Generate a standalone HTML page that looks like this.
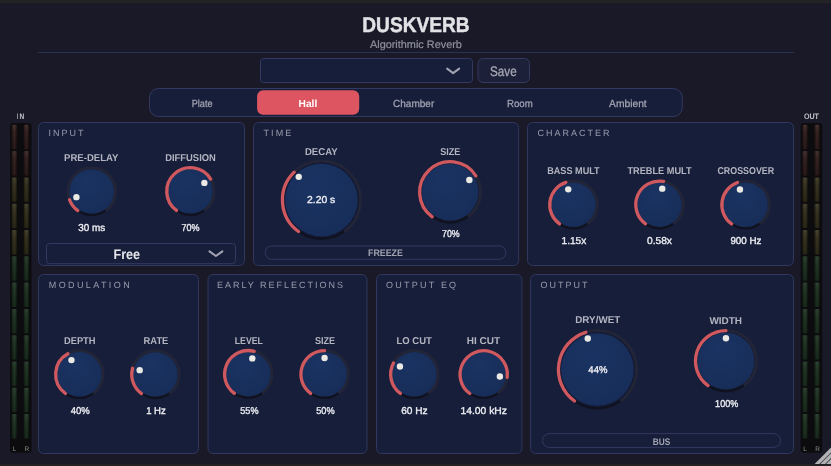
<!DOCTYPE html>
<html><head><meta charset="utf-8"><title>DuskVerb</title>
<style>
html,body{margin:0;padding:0;background:#191927;}
body{width:831px;height:466px;overflow:hidden;position:relative;font-family:"Liberation Sans",sans-serif;}
svg text{font-family:"Liberation Sans",sans-serif;text-rendering:geometricPrecision;}
.title{font-size:21.2px;font-weight:bold;fill:#e2e2e6;stroke:#e2e2e6;stroke-width:0.45px;}
.sub{font-size:10.8px;fill:#90919e;stroke:#90919e;stroke-width:0.2px;}
.save{font-size:13.8px;fill:#a5a6b2;stroke:#a5a6b2;stroke-width:0.3px;}
.tab{font-size:10.3px;fill:#a3a4b2;stroke:#a3a4b2;stroke-width:0.25px;}
.tabsel{font-size:10.3px;font-weight:bold;fill:#ffffff;}
.ptitle{font-size:9px;fill:#999bab;}
.kl{font-size:9.9px;font-weight:bold;fill:#b4b5c0;}
.kv{font-size:10.0px;fill:#ededf2;stroke:#ededf2;stroke-width:0.35px;}
.free{font-size:14px;fill:#e4e4ea;font-weight:bold;}
.btn{font-size:9.5px;font-weight:bold;fill:#a3a4b2;}
.io{font-size:8.0px;font-weight:bold;fill:#c4c4cc;}
.lr{font-size:6.5px;fill:#8c8c88;}
</style></head><body>
<svg width="831" height="466" viewBox="0 0 831 466" style="position:absolute;left:0;top:0;will-change:transform">
<defs>
<radialGradient id="kg" cx="0.4" cy="0.3" r="0.9"><stop offset="0" stop-color="#1a3362"/><stop offset="1" stop-color="#172c57"/></radialGradient>
<linearGradient id="mr" x1="0" y1="0" x2="0" y2="1"><stop offset="0" stop-color="#45312f"/><stop offset="0.3" stop-color="#352221"/><stop offset="1" stop-color="#2a1919"/></linearGradient>
<linearGradient id="my" x1="0" y1="0" x2="0" y2="1"><stop offset="0" stop-color="#47432f"/><stop offset="0.3" stop-color="#383421"/><stop offset="1" stop-color="#2b2716"/></linearGradient>
<linearGradient id="mg" x1="0" y1="0" x2="0" y2="1"><stop offset="0" stop-color="#2d4231"/><stop offset="0.3" stop-color="#213625"/><stop offset="1" stop-color="#182a1c"/></linearGradient>
<linearGradient id="mh" x1="0" y1="0" x2="1" y2="0"><stop offset="0" stop-color="#000" stop-opacity="0.45"/><stop offset="0.4" stop-color="#000" stop-opacity="0"/><stop offset="0.6" stop-color="#000" stop-opacity="0"/><stop offset="1" stop-color="#000" stop-opacity="0.45"/></linearGradient>
</defs>
<rect x="0" y="0" width="831" height="466" fill="#191927"/>
<rect x="0" y="0" width="831" height="3.3" fill="#232325"/>
<rect x="0" y="464" width="831" height="2" fill="#232325"/>
<rect x="38" y="52" width="756" height="1" fill="#2c3156"/>
<text transform="translate(362.30 31.8) scale(0.9028 1)" class="title">DUSKVERB</text>
<text transform="translate(369.95 47.9) scale(1.0080 1)" class="sub">Algorithmic Reverb</text>
<rect x="260.5" y="58.5" width="212" height="24" rx="3" fill="#161e3a" stroke="#343960"/>
<path d="M447.1 68.6 L453.15 73.1 L459.2 68.6" fill="none" stroke="#a2a3b1" stroke-width="2.05" stroke-linecap="round" stroke-linejoin="round"/>
<rect x="478" y="58.5" width="51.5" height="24" rx="5" fill="#1c2039" stroke="#343960"/>
<text transform="translate(490.05 76.2) scale(0.8479 1)" class="save">Save</text>
<rect x="149.5" y="88.5" width="532.8" height="28" rx="9" fill="#161e3a" stroke="#343960"/>
<rect x="257.1" y="90.3" width="102.1" height="24.4" rx="6" fill="#dc5560"/>
<text transform="translate(191.70 107) scale(0.8855 1)" class="tab">Plate</text>
<text transform="translate(392.95 107) scale(0.9757 1)" class="tab">Chamber</text>
<text transform="translate(507.00 107) scale(0.9379 1)" class="tab">Room</text>
<text transform="translate(609.05 107) scale(0.9971 1)" class="tab">Ambient</text>
<text transform="translate(298.55 107) scale(0.9925 1)" class="tabsel">Hall</text>
<rect x="38.5" y="122.5" width="206" height="143" rx="5" fill="#161e3a" stroke="#31375d"/>
<text x="48.40" y="136.1" class="ptitle" style="letter-spacing:2.02px">INPUT</text>
<rect x="253.5" y="122.5" width="265.1" height="143" rx="5" fill="#161e3a" stroke="#31375d"/>
<text x="263.60" y="136.1" class="ptitle" style="letter-spacing:2.03px">TIME</text>
<rect x="527.5" y="122.5" width="266" height="143" rx="5" fill="#161e3a" stroke="#31375d"/>
<text x="537.50" y="136.1" class="ptitle" style="letter-spacing:1.99px">CHARACTER</text>
<rect x="38.5" y="274.5" width="160" height="179" rx="5" fill="#161e3a" stroke="#31375d"/>
<text x="48.80" y="288.1" class="ptitle" style="letter-spacing:2.39px">MODULATION</text>
<rect x="208.0" y="274.5" width="159.0" height="179" rx="5" fill="#161e3a" stroke="#31375d"/>
<text x="216.90" y="288.1" class="ptitle" style="letter-spacing:2.0px">EARLY REFLECTIONS</text>
<rect x="376.5" y="274.5" width="145.39999999999998" height="179" rx="5" fill="#161e3a" stroke="#31375d"/>
<text x="386.10" y="288.1" class="ptitle" style="letter-spacing:2.21px">OUTPUT EQ</text>
<rect x="530.6" y="274.5" width="262.9" height="179" rx="5" fill="#161e3a" stroke="#31375d"/>
<text x="540.40" y="288.1" class="ptitle" style="letter-spacing:2.04px">OUTPUT</text>
<rect x="46.5" y="243.5" width="189" height="20.2" rx="3" fill="#161e3a" stroke="#343960"/>
<text transform="translate(113.45 258.9) scale(0.9013 1)" class="free">Free</text>
<path d="M209.5 251.4 L215.9 256.0 L222.3 251.4" fill="none" stroke="#a2a3b1" stroke-width="2.05" stroke-linecap="round" stroke-linejoin="round"/>
<rect x="265.2" y="246.0" width="240.6" height="13.3" rx="6.6" fill="#161e3a" stroke="#343960"/>
<text transform="translate(368.00 256.2) scale(0.9280 1)" class="btn">FREEZE</text>
<rect x="542.5" y="433.6" width="238" height="13.8" rx="6.9" fill="#161e3a" stroke="#343960"/>
<text transform="translate(652.85 444.6) scale(0.8750 1)" class="btn">BUS</text>
<circle cx="91.7" cy="191.7" r="24.5" fill="#10121f"/>
<path d="M77.80 210.63A23.650000000000002 23.650000000000002 0 1 1 105.60 210.63" fill="none" stroke="#222438" stroke-width="3.3" stroke-linecap="butt"/>
<circle cx="91.7" cy="191.5" r="22.3" fill="url(#kg)"/>
<path d="M77.80 210.63A23.650000000000002 23.650000000000002 0 0 1 69.52 199.71" fill="none" stroke="#cf595f" stroke-width="3.3" stroke-linecap="round"/>
<circle cx="76.41" cy="197.16" r="3.2" fill="#ebe9e4"/>
<circle cx="190.4" cy="191.5" r="24.5" fill="#10121f"/>
<path d="M176.50 210.43A23.650000000000002 23.650000000000002 0 1 1 204.30 210.43" fill="none" stroke="#222438" stroke-width="3.3" stroke-linecap="butt"/>
<circle cx="190.4" cy="191.3" r="22.3" fill="url(#kg)"/>
<path d="M176.50 210.43A23.650000000000002 23.650000000000002 0 1 1 210.68 179.13" fill="none" stroke="#cf595f" stroke-width="3.3" stroke-linecap="round"/>
<circle cx="204.38" cy="182.91" r="3.2" fill="#ebe9e4"/>
<circle cx="321.4" cy="200.2" r="39.800000000000004" fill="#10121f"/>
<path d="M298.51 231.51A38.95 38.95 0 1 1 344.29 231.51" fill="none" stroke="#222438" stroke-width="3.3" stroke-linecap="butt"/>
<circle cx="321.4" cy="200.0" r="37.50000000000001" fill="#141b38"/>
<circle cx="321.4" cy="200.0" r="36.2" fill="url(#kg)"/>
<path d="M298.51 231.51A38.95 38.95 0 0 1 294.17 172.15" fill="none" stroke="#cf595f" stroke-width="3.3" stroke-linecap="round"/>
<circle cx="298.75" cy="176.83" r="3.2" fill="#ebe9e4"/>
<circle cx="450.1" cy="192.39999999999998" r="31.3" fill="#10121f"/>
<path d="M432.20 216.83A30.450000000000003 30.450000000000003 0 1 1 468.00 216.83" fill="none" stroke="#222438" stroke-width="3.3" stroke-linecap="butt"/>
<circle cx="450.1" cy="192.2" r="28.5" fill="url(#kg)"/>
<path d="M432.20 216.83A30.450000000000003 30.450000000000003 0 1 1 475.81 175.88" fill="none" stroke="#cf595f" stroke-width="3.3" stroke-linecap="round"/>
<circle cx="469.35" cy="179.98" r="3.2" fill="#ebe9e4"/>
<circle cx="573.4" cy="205.0" r="24.5" fill="#10121f"/>
<path d="M559.50 223.93A23.650000000000002 23.650000000000002 0 1 1 587.30 223.93" fill="none" stroke="#222438" stroke-width="3.3" stroke-linecap="butt"/>
<circle cx="573.4" cy="204.8" r="22.3" fill="url(#kg)"/>
<path d="M559.50 223.93A23.650000000000002 23.650000000000002 0 0 1 565.92 182.36" fill="none" stroke="#cf595f" stroke-width="3.3" stroke-linecap="round"/>
<circle cx="568.25" cy="189.34" r="3.2" fill="#ebe9e4"/>
<circle cx="659.4" cy="204.89999999999998" r="24.5" fill="#10121f"/>
<path d="M645.50 223.83A23.650000000000002 23.650000000000002 0 1 1 673.30 223.83" fill="none" stroke="#222438" stroke-width="3.3" stroke-linecap="butt"/>
<circle cx="659.4" cy="204.7" r="22.3" fill="url(#kg)"/>
<path d="M645.50 223.83A23.650000000000002 23.650000000000002 0 0 1 663.54 181.42" fill="none" stroke="#cf595f" stroke-width="3.3" stroke-linecap="round"/>
<circle cx="662.25" cy="188.65" r="3.2" fill="#ebe9e4"/>
<circle cx="745.5" cy="205.0" r="24.5" fill="#10121f"/>
<path d="M731.60 223.93A23.650000000000002 23.650000000000002 0 1 1 759.40 223.93" fill="none" stroke="#222438" stroke-width="3.3" stroke-linecap="butt"/>
<circle cx="745.5" cy="204.8" r="22.3" fill="url(#kg)"/>
<path d="M731.60 223.93A23.650000000000002 23.650000000000002 0 0 1 737.46 182.56" fill="none" stroke="#cf595f" stroke-width="3.3" stroke-linecap="round"/>
<circle cx="739.96" cy="189.47" r="3.2" fill="#ebe9e4"/>
<circle cx="79.3" cy="374.59999999999997" r="24.5" fill="#10121f"/>
<path d="M65.40 393.53A23.650000000000002 23.650000000000002 0 1 1 93.20 393.53" fill="none" stroke="#222438" stroke-width="3.3" stroke-linecap="butt"/>
<circle cx="79.3" cy="374.4" r="22.3" fill="url(#kg)"/>
<path d="M65.40 393.53A23.650000000000002 23.650000000000002 0 0 1 67.91 353.68" fill="none" stroke="#cf595f" stroke-width="3.3" stroke-linecap="round"/>
<circle cx="71.45" cy="360.12" r="3.2" fill="#ebe9e4"/>
<circle cx="155.4" cy="374.7" r="24.5" fill="#10121f"/>
<path d="M141.50 393.63A23.650000000000002 23.650000000000002 0 1 1 169.30 393.63" fill="none" stroke="#222438" stroke-width="3.3" stroke-linecap="butt"/>
<circle cx="155.4" cy="374.5" r="22.3" fill="url(#kg)"/>
<path d="M141.50 393.63A23.650000000000002 23.650000000000002 0 0 1 132.60 368.22" fill="none" stroke="#cf595f" stroke-width="3.3" stroke-linecap="round"/>
<circle cx="139.69" cy="370.17" r="3.2" fill="#ebe9e4"/>
<circle cx="248.25" cy="374.4" r="24.5" fill="#10121f"/>
<path d="M234.35 393.33A23.650000000000002 23.650000000000002 0 1 1 262.15 393.33" fill="none" stroke="#222438" stroke-width="3.3" stroke-linecap="butt"/>
<circle cx="248.25" cy="374.2" r="22.3" fill="url(#kg)"/>
<path d="M234.35 393.33A23.650000000000002 23.650000000000002 0 0 1 254.13 351.29" fill="none" stroke="#cf595f" stroke-width="3.3" stroke-linecap="round"/>
<circle cx="252.30" cy="358.41" r="3.2" fill="#ebe9e4"/>
<circle cx="324.55" cy="374.5" r="24.5" fill="#10121f"/>
<path d="M310.65 393.43A23.650000000000002 23.650000000000002 0 1 1 338.45 393.43" fill="none" stroke="#222438" stroke-width="3.3" stroke-linecap="butt"/>
<circle cx="324.55" cy="374.3" r="22.3" fill="url(#kg)"/>
<path d="M310.65 393.43A23.650000000000002 23.650000000000002 0 0 1 324.55 350.65" fill="none" stroke="#cf595f" stroke-width="3.3" stroke-linecap="round"/>
<circle cx="324.55" cy="358.00" r="3.2" fill="#ebe9e4"/>
<circle cx="414.3" cy="374.5" r="24.5" fill="#10121f"/>
<path d="M400.40 393.43A23.650000000000002 23.650000000000002 0 1 1 428.20 393.43" fill="none" stroke="#222438" stroke-width="3.3" stroke-linecap="butt"/>
<circle cx="414.3" cy="374.3" r="22.3" fill="url(#kg)"/>
<path d="M400.40 393.43A23.650000000000002 23.650000000000002 0 0 1 393.49 363.06" fill="none" stroke="#cf595f" stroke-width="3.3" stroke-linecap="round"/>
<circle cx="399.96" cy="366.56" r="3.2" fill="#ebe9e4"/>
<circle cx="483.7" cy="374.59999999999997" r="24.5" fill="#10121f"/>
<path d="M469.80 393.53A23.650000000000002 23.650000000000002 0 1 1 497.60 393.53" fill="none" stroke="#222438" stroke-width="3.3" stroke-linecap="butt"/>
<circle cx="483.7" cy="374.4" r="22.3" fill="url(#kg)"/>
<path d="M469.80 393.53A23.650000000000002 23.650000000000002 0 1 1 507.16 377.42" fill="none" stroke="#cf595f" stroke-width="3.3" stroke-linecap="round"/>
<circle cx="499.87" cy="376.48" r="3.2" fill="#ebe9e4"/>
<circle cx="597.4" cy="369.7" r="39.800000000000004" fill="#10121f"/>
<path d="M574.51 401.01A38.95 38.95 0 1 1 620.29 401.01" fill="none" stroke="#222438" stroke-width="3.3" stroke-linecap="butt"/>
<circle cx="597.4" cy="369.5" r="37.50000000000001" fill="#141b38"/>
<circle cx="597.4" cy="369.5" r="36.2" fill="url(#kg)"/>
<path d="M574.51 401.01A38.95 38.95 0 0 1 585.83 332.31" fill="none" stroke="#cf595f" stroke-width="3.3" stroke-linecap="round"/>
<circle cx="587.78" cy="338.56" r="3.2" fill="#ebe9e4"/>
<circle cx="725.95" cy="361.2" r="31.3" fill="#10121f"/>
<path d="M708.05 385.63A30.450000000000003 30.450000000000003 0 1 1 743.85 385.63" fill="none" stroke="#222438" stroke-width="3.3" stroke-linecap="butt"/>
<circle cx="725.95" cy="361.0" r="28.5" fill="url(#kg)"/>
<path d="M708.05 385.63A30.450000000000003 30.450000000000003 0 0 1 725.95 330.55" fill="none" stroke="#cf595f" stroke-width="3.3" stroke-linecap="round"/>
<circle cx="725.95" cy="338.20" r="3.2" fill="#ebe9e4"/>
<text transform="translate(64.05 160.7) scale(0.9686 1)" class="kl">PRE-DELAY</text>
<text transform="translate(165.20 160.7) scale(0.9516 1)" class="kl">DIFFUSION</text>
<text transform="translate(304.95 154.7) scale(0.9700 1)" class="kl">DECAY</text>
<text transform="translate(440.30 154.7) scale(0.9159 1)" class="kl">SIZE</text>
<text transform="translate(547.20 173.6) scale(0.9225 1)" class="kl">BASS MULT</text>
<text transform="translate(627.45 173.6) scale(0.9312 1)" class="kl">TREBLE MULT</text>
<text transform="translate(717.45 173.6) scale(0.8991 1)" class="kl">CROSSOVER</text>
<text transform="translate(64.00 343.9) scale(0.9409 1)" class="kl">DEPTH</text>
<text transform="translate(143.60 343.9) scale(0.9469 1)" class="kl">RATE</text>
<text transform="translate(234.75 343.9) scale(0.8856 1)" class="kl">LEVEL</text>
<text transform="translate(314.90 343.9) scale(0.9159 1)" class="kl">SIZE</text>
<text transform="translate(396.50 343.9) scale(0.9608 1)" class="kl">LO CUT</text>
<text transform="translate(466.80 343.9) scale(1.0134 1)" class="kl">HI CUT</text>
<text transform="translate(575.25 323.0) scale(0.9969 1)" class="kl">DRY/WET</text>
<text transform="translate(709.45 323.8) scale(1.0075 1)" class="kl">WIDTH</text>
<text transform="translate(78.20 230.6) scale(0.9908 1)" class="kv">30 ms</text>
<text transform="translate(181.60 230.79999999999998) scale(0.9000 1)" class="kv">70%</text>
<text transform="translate(307.10 203.2) scale(1.0349 1)" class="kv">2.20 s</text>
<text transform="translate(442.00 236.5) scale(0.8800 1)" class="kv">70%</text>
<text transform="translate(561.55 243.6) scale(1.0082 1)" class="kv">1.15x</text>
<text transform="translate(647.00 243.6) scale(1.0204 1)" class="kv">0.58x</text>
<text transform="translate(730.40 243.6) scale(0.9827 1)" class="kv">900 Hz</text>
<text transform="translate(70.80 413.59999999999997) scale(0.9500 1)" class="kv">40%</text>
<text transform="translate(146.15 413.59999999999997) scale(0.9552 1)" class="kv">1 Hz</text>
<text transform="translate(240.30 413.59999999999997) scale(0.9100 1)" class="kv">55%</text>
<text transform="translate(316.20 413.59999999999997) scale(0.9200 1)" class="kv">50%</text>
<text transform="translate(401.15 413.59999999999997) scale(1.0144 1)" class="kv">60 Hz</text>
<text transform="translate(460.45 413.59999999999997) scale(1.0333 1)" class="kv">14.00 kHz</text>
<text transform="translate(588.35 372.9) scale(0.9550 1)" class="kv">44%</text>
<text transform="translate(715.10 406.5) scale(0.9054 1)" class="kv">100%</text>
<rect x="10" y="123" width="21.5" height="329.8" rx="3" fill="#0c0c0f"/>
<rect x="11.80" y="124.80" width="5" height="24.4" rx="1.1" fill="url(#mr)"/>
<rect x="11.80" y="124.80" width="5" height="24.4" rx="1.1" fill="url(#mh)"/>
<rect x="23.90" y="124.80" width="5" height="24.4" rx="1.1" fill="url(#mr)"/>
<rect x="23.90" y="124.80" width="5" height="24.4" rx="1.1" fill="url(#mh)"/>
<rect x="11.80" y="151.10" width="5" height="24.4" rx="1.1" fill="url(#mr)"/>
<rect x="11.80" y="151.10" width="5" height="24.4" rx="1.1" fill="url(#mh)"/>
<rect x="23.90" y="151.10" width="5" height="24.4" rx="1.1" fill="url(#mr)"/>
<rect x="23.90" y="151.10" width="5" height="24.4" rx="1.1" fill="url(#mh)"/>
<rect x="11.80" y="177.40" width="5" height="24.4" rx="1.1" fill="url(#my)"/>
<rect x="11.80" y="177.40" width="5" height="24.4" rx="1.1" fill="url(#mh)"/>
<rect x="23.90" y="177.40" width="5" height="24.4" rx="1.1" fill="url(#my)"/>
<rect x="23.90" y="177.40" width="5" height="24.4" rx="1.1" fill="url(#mh)"/>
<rect x="11.80" y="203.70" width="5" height="24.4" rx="1.1" fill="url(#my)"/>
<rect x="11.80" y="203.70" width="5" height="24.4" rx="1.1" fill="url(#mh)"/>
<rect x="23.90" y="203.70" width="5" height="24.4" rx="1.1" fill="url(#my)"/>
<rect x="23.90" y="203.70" width="5" height="24.4" rx="1.1" fill="url(#mh)"/>
<rect x="11.80" y="230.00" width="5" height="24.4" rx="1.1" fill="url(#my)"/>
<rect x="11.80" y="230.00" width="5" height="24.4" rx="1.1" fill="url(#mh)"/>
<rect x="23.90" y="230.00" width="5" height="24.4" rx="1.1" fill="url(#my)"/>
<rect x="23.90" y="230.00" width="5" height="24.4" rx="1.1" fill="url(#mh)"/>
<rect x="11.80" y="256.30" width="5" height="24.4" rx="1.1" fill="url(#mg)"/>
<rect x="11.80" y="256.30" width="5" height="24.4" rx="1.1" fill="url(#mh)"/>
<rect x="23.90" y="256.30" width="5" height="24.4" rx="1.1" fill="url(#mg)"/>
<rect x="23.90" y="256.30" width="5" height="24.4" rx="1.1" fill="url(#mh)"/>
<rect x="11.80" y="282.60" width="5" height="24.4" rx="1.1" fill="url(#mg)"/>
<rect x="11.80" y="282.60" width="5" height="24.4" rx="1.1" fill="url(#mh)"/>
<rect x="23.90" y="282.60" width="5" height="24.4" rx="1.1" fill="url(#mg)"/>
<rect x="23.90" y="282.60" width="5" height="24.4" rx="1.1" fill="url(#mh)"/>
<rect x="11.80" y="308.90" width="5" height="24.4" rx="1.1" fill="url(#mg)"/>
<rect x="11.80" y="308.90" width="5" height="24.4" rx="1.1" fill="url(#mh)"/>
<rect x="23.90" y="308.90" width="5" height="24.4" rx="1.1" fill="url(#mg)"/>
<rect x="23.90" y="308.90" width="5" height="24.4" rx="1.1" fill="url(#mh)"/>
<rect x="11.80" y="335.20" width="5" height="24.4" rx="1.1" fill="url(#mg)"/>
<rect x="11.80" y="335.20" width="5" height="24.4" rx="1.1" fill="url(#mh)"/>
<rect x="23.90" y="335.20" width="5" height="24.4" rx="1.1" fill="url(#mg)"/>
<rect x="23.90" y="335.20" width="5" height="24.4" rx="1.1" fill="url(#mh)"/>
<rect x="11.80" y="361.50" width="5" height="24.4" rx="1.1" fill="url(#mg)"/>
<rect x="11.80" y="361.50" width="5" height="24.4" rx="1.1" fill="url(#mh)"/>
<rect x="23.90" y="361.50" width="5" height="24.4" rx="1.1" fill="url(#mg)"/>
<rect x="23.90" y="361.50" width="5" height="24.4" rx="1.1" fill="url(#mh)"/>
<rect x="11.80" y="387.80" width="5" height="24.4" rx="1.1" fill="url(#mg)"/>
<rect x="11.80" y="387.80" width="5" height="24.4" rx="1.1" fill="url(#mh)"/>
<rect x="23.90" y="387.80" width="5" height="24.4" rx="1.1" fill="url(#mg)"/>
<rect x="23.90" y="387.80" width="5" height="24.4" rx="1.1" fill="url(#mh)"/>
<rect x="11.80" y="414.10" width="5" height="24.4" rx="1.1" fill="url(#mg)"/>
<rect x="11.80" y="414.10" width="5" height="24.4" rx="1.1" fill="url(#mh)"/>
<rect x="23.90" y="414.10" width="5" height="24.4" rx="1.1" fill="url(#mg)"/>
<rect x="23.90" y="414.10" width="5" height="24.4" rx="1.1" fill="url(#mh)"/>
<text transform="translate(14.3 450.5) scale(1.0 1)" text-anchor="middle" class="lr">L</text>
<text transform="translate(26.9 450.5) scale(1.0 1)" text-anchor="middle" class="lr">R</text>
<rect x="800.7" y="123" width="21.5" height="329.8" rx="3" fill="#0c0c0f"/>
<rect x="802.50" y="124.80" width="5" height="24.4" rx="1.1" fill="url(#mr)"/>
<rect x="802.50" y="124.80" width="5" height="24.4" rx="1.1" fill="url(#mh)"/>
<rect x="814.60" y="124.80" width="5" height="24.4" rx="1.1" fill="url(#mr)"/>
<rect x="814.60" y="124.80" width="5" height="24.4" rx="1.1" fill="url(#mh)"/>
<rect x="802.50" y="151.10" width="5" height="24.4" rx="1.1" fill="url(#mr)"/>
<rect x="802.50" y="151.10" width="5" height="24.4" rx="1.1" fill="url(#mh)"/>
<rect x="814.60" y="151.10" width="5" height="24.4" rx="1.1" fill="url(#mr)"/>
<rect x="814.60" y="151.10" width="5" height="24.4" rx="1.1" fill="url(#mh)"/>
<rect x="802.50" y="177.40" width="5" height="24.4" rx="1.1" fill="url(#my)"/>
<rect x="802.50" y="177.40" width="5" height="24.4" rx="1.1" fill="url(#mh)"/>
<rect x="814.60" y="177.40" width="5" height="24.4" rx="1.1" fill="url(#my)"/>
<rect x="814.60" y="177.40" width="5" height="24.4" rx="1.1" fill="url(#mh)"/>
<rect x="802.50" y="203.70" width="5" height="24.4" rx="1.1" fill="url(#my)"/>
<rect x="802.50" y="203.70" width="5" height="24.4" rx="1.1" fill="url(#mh)"/>
<rect x="814.60" y="203.70" width="5" height="24.4" rx="1.1" fill="url(#my)"/>
<rect x="814.60" y="203.70" width="5" height="24.4" rx="1.1" fill="url(#mh)"/>
<rect x="802.50" y="230.00" width="5" height="24.4" rx="1.1" fill="url(#my)"/>
<rect x="802.50" y="230.00" width="5" height="24.4" rx="1.1" fill="url(#mh)"/>
<rect x="814.60" y="230.00" width="5" height="24.4" rx="1.1" fill="url(#my)"/>
<rect x="814.60" y="230.00" width="5" height="24.4" rx="1.1" fill="url(#mh)"/>
<rect x="802.50" y="256.30" width="5" height="24.4" rx="1.1" fill="url(#mg)"/>
<rect x="802.50" y="256.30" width="5" height="24.4" rx="1.1" fill="url(#mh)"/>
<rect x="814.60" y="256.30" width="5" height="24.4" rx="1.1" fill="url(#mg)"/>
<rect x="814.60" y="256.30" width="5" height="24.4" rx="1.1" fill="url(#mh)"/>
<rect x="802.50" y="282.60" width="5" height="24.4" rx="1.1" fill="url(#mg)"/>
<rect x="802.50" y="282.60" width="5" height="24.4" rx="1.1" fill="url(#mh)"/>
<rect x="814.60" y="282.60" width="5" height="24.4" rx="1.1" fill="url(#mg)"/>
<rect x="814.60" y="282.60" width="5" height="24.4" rx="1.1" fill="url(#mh)"/>
<rect x="802.50" y="308.90" width="5" height="24.4" rx="1.1" fill="url(#mg)"/>
<rect x="802.50" y="308.90" width="5" height="24.4" rx="1.1" fill="url(#mh)"/>
<rect x="814.60" y="308.90" width="5" height="24.4" rx="1.1" fill="url(#mg)"/>
<rect x="814.60" y="308.90" width="5" height="24.4" rx="1.1" fill="url(#mh)"/>
<rect x="802.50" y="335.20" width="5" height="24.4" rx="1.1" fill="url(#mg)"/>
<rect x="802.50" y="335.20" width="5" height="24.4" rx="1.1" fill="url(#mh)"/>
<rect x="814.60" y="335.20" width="5" height="24.4" rx="1.1" fill="url(#mg)"/>
<rect x="814.60" y="335.20" width="5" height="24.4" rx="1.1" fill="url(#mh)"/>
<rect x="802.50" y="361.50" width="5" height="24.4" rx="1.1" fill="url(#mg)"/>
<rect x="802.50" y="361.50" width="5" height="24.4" rx="1.1" fill="url(#mh)"/>
<rect x="814.60" y="361.50" width="5" height="24.4" rx="1.1" fill="url(#mg)"/>
<rect x="814.60" y="361.50" width="5" height="24.4" rx="1.1" fill="url(#mh)"/>
<rect x="802.50" y="387.80" width="5" height="24.4" rx="1.1" fill="url(#mg)"/>
<rect x="802.50" y="387.80" width="5" height="24.4" rx="1.1" fill="url(#mh)"/>
<rect x="814.60" y="387.80" width="5" height="24.4" rx="1.1" fill="url(#mg)"/>
<rect x="814.60" y="387.80" width="5" height="24.4" rx="1.1" fill="url(#mh)"/>
<rect x="802.50" y="414.10" width="5" height="24.4" rx="1.1" fill="url(#mg)"/>
<rect x="802.50" y="414.10" width="5" height="24.4" rx="1.1" fill="url(#mh)"/>
<rect x="814.60" y="414.10" width="5" height="24.4" rx="1.1" fill="url(#mg)"/>
<rect x="814.60" y="414.10" width="5" height="24.4" rx="1.1" fill="url(#mh)"/>
<text transform="translate(805.0 450.5) scale(1.0 1)" text-anchor="middle" class="lr">L</text>
<text transform="translate(817.6 450.5) scale(1.0 1)" text-anchor="middle" class="lr">R</text>
<text transform="translate(17.00 119.0) scale(0.5556 1)" class="io">I</text>
<text transform="translate(19.50 119.0) scale(0.8174 1)" class="io">N</text>
<text transform="translate(803.95 119.0) scale(0.8889 1)" class="io">OUT</text>
<clipPath id="gc"><rect x="0" y="0" width="831" height="464"/></clipPath>
<g stroke="#b2b2b4" stroke-width="3.4" clip-path="url(#gc)"><line x1="814.0" y1="467" x2="834" y2="447.0"/><line x1="819.7" y1="467" x2="834" y2="452.7"/><line x1="825.4" y1="467" x2="834" y2="458.4"/></g>
</svg>
</body></html>
